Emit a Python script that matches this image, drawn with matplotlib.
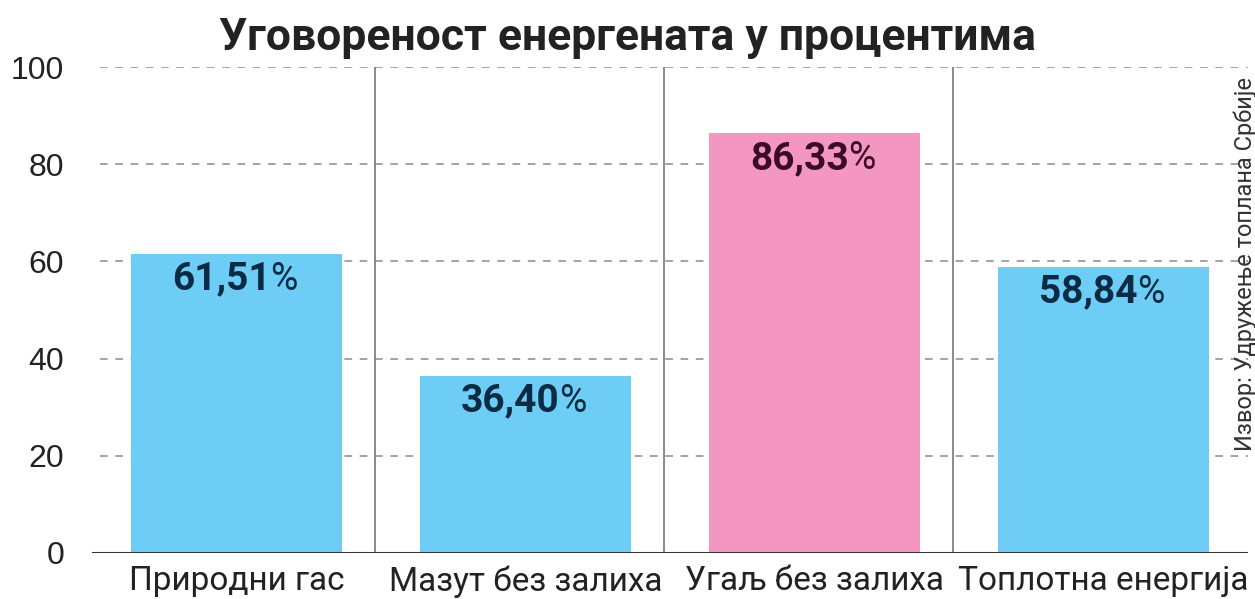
import matplotlib
matplotlib.use('Agg')
from matplotlib import pyplot as plt

categories = ['Природни гас', 'Мазут без залиха', 'Угаљ без залиха', 'Топлотна енергија']
values = [61.51, 36.40, 86.33, 58.84]
value_labels = ['61,51', '36,40', '86,33', '58,84']
bar_colors = ['#6dcdf5', '#6dcdf5', '#f397c0', '#6dcdf5']
text_colors = ['#0b2a45', '#0b2a45', '#3a0a28', '#0b2a45']
yticks = [0, 20, 40, 60, 80, 100]

title = 'Уговореност енергената у процентима'
source = 'Извор: Удружење топлана Србије'

plt.rcParams['font.family'] = ['Roboto', 'DejaVu Sans']

fig = plt.figure(figsize=(12.55, 5.99), dpi=100)
ax = fig.add_axes([0.0733, 0.0768, 0.9211, 0.8113])

x = list(range(len(categories)))

# dashed grid behind the bars
for yv in yticks[1:]:
    ax.axhline(yv, xmin=0.007, xmax=1, color='#8a8a8a', lw=1.1,
               ls=(0, (5, 5)), zorder=1)

# separators between categories
for i in x[:-1]:
    ax.vlines(i + 0.48, 0, 100, color='#777777', lw=1.2, zorder=1)

ax.bar(x, values, width=0.73, color=bar_colors, zorder=2)
ax.axhline(0, color='#333333', lw=2.2, zorder=3)

for i, v in enumerate(values):
    t = ax.annotate(value_labels[i], xy=(i, v), xytext=(-11, -18),
                    textcoords='offset points', ha='center', va='center',
                    fontsize=28, fontweight='bold', color=text_colors[i], zorder=4)
    ax.annotate('%', xy=(1, 0), xycoords=t, ha='left', va='bottom',
                fontsize=27, color=text_colors[i], zorder=4)

ax.set_xlim(-0.5, 3.5)
ax.set_ylim(0, 100)
ax.set_xticks(x)
ax.set_xticklabels(categories, fontsize=24, color='#222222')
ax.set_yticks(yticks)
ax.set_yticklabels([str(t) for t in yticks], fontsize=23, color='#222222',
                   family=['Liberation Sans', 'DejaVu Sans'])
ax.tick_params(axis='x', length=0, pad=9)
ax.tick_params(axis='y', length=0, pad=20)
for s in ax.spines.values():
    s.set_visible(False)

fig.text(0.5, 0.937, title, ha='center', va='center', fontsize=32,
         fontweight='bold', color='#222222',
         family=['Liberation Sans Narrow', 'Roboto', 'DejaVu Sans'])
fig.text(0.992, 0.56, source, rotation=90, ha='center', va='center',
         fontsize=17, color='#333333')

fig.savefig('out.png', dpi=100)
